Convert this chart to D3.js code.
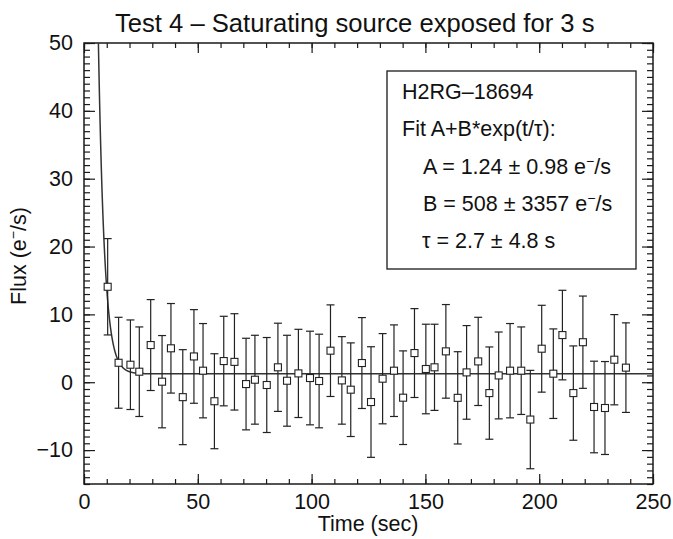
<!DOCTYPE html>
<html><head><meta charset="utf-8">
<script src="https://cdn.jsdelivr.net/npm/d3@7"></script>
<style>
body{margin:0;background:#fff;}
svg{font-family:"Liberation Sans",Arial,Helvetica,sans-serif;}
</style></head>
<body><svg id="c" width="673" height="539"></svg>
<script>
// ---- data ----
const times = [10.4,15.2,20.4,24.3,29.3,34.3,38.2,43.4,48.3,52.3,57.3,61.4,66.1,71.2,75.1,80.3,85.2,89.2,94.2,99.3,103.3,108.3,113.3,117.2,122.1,126.1,131.2,136.2,140.2,145.2,150.2,154.0,159.0,164.2,168.1,173.2,178.1,182.2,187.2,192.1,196.1,201.1,206.2,210.2,215.0,219.2,224.1,228.9,233.0,238.1];
const flux = [14.07,2.87,2.58,1.55,5.48,0.08,5.0,-2.2,3.8,1.7,-2.8,3.12,3.0,-0.27,0.37,-0.41,2.2,0.22,1.3,0.62,0.18,4.65,0.27,-1.1,2.83,-2.92,0.52,1.7,-2.28,4.3,1.95,2.2,4.55,-2.3,1.45,3.07,-1.6,1.0,1.7,1.7,-5.5,4.94,1.26,6.95,-1.6,5.9,-3.65,-3.8,3.32,2.15];
const fluxErr = [7.1,6.7,6.6,6.6,6.7,6.8,6.6,7.0,6.9,6.95,7.0,6.6,7.1,6.75,6.55,7.0,6.5,6.7,6.5,6.9,6.9,6.75,6.45,6.9,6.7,8.15,6.65,6.75,6.9,6.55,6.6,6.35,6.9,6.8,6.9,6.5,6.8,6.4,6.95,6.45,7.25,6.4,6.6,6.6,6.95,6.8,6.75,6.85,6.65,6.6];
const xTicks = [0,50,100,150,200,250];
const yTicks = [-10,0,10,20,30,40,50];
const fitA = 1.24, fitB = 508, fitTau = 2.7;
const titleText = "Test 4 \u2013 Saturating source exposed for 3 s";
const legendLines = ["H2RG\u201318694","Fit A+B*exp(t/\u03c4):","A = 1.24 \u00b1 0.98 e","B = 508 \u00b1 3357 e","\u03c4 = 2.7 \u00b1 4.8 s"];

const svg = d3.select("#c");
const L=84,R=653,T=43,B=484;
const x = d3.scaleLinear([0,250],[L,R]);
const y = d3.scaleLinear([-15,50],[B,T]);
const ink = "#1a1a1a";
const FS = 21.5;

svg.append("defs").append("clipPath").attr("id","clip")
  .append("rect").attr("x",L).attr("y",T).attr("width",R-L).attr("height",B-T);

function styleAxis(g){
  g.select(".domain").remove();
  g.selectAll("line").attr("stroke",ink).attr("stroke-width",1.2);
  g.selectAll("text").attr("fill","#111").attr("font-size",FS).attr("font-family","Liberation Sans, Arial, sans-serif");
}
const xMinor = d3.range(0,251,10), yMinor = d3.range(-15,51,1);
// bottom
svg.append("g").attr("transform",`translate(0,${B})`)
  .call(d3.axisBottom(x).tickValues(xMinor).tickSize(-5).tickFormat("")).call(styleAxis);
svg.append("g").attr("transform",`translate(0,${B})`)
  .call(d3.axisBottom(x).tickValues(xTicks).tickSize(-10).tickPadding(10).tickFormat(d3.format("d"))).call(styleAxis);
// top
svg.append("g").attr("transform",`translate(0,${T})`)
  .call(d3.axisTop(x).tickValues(xMinor).tickSize(-5).tickFormat("")).call(styleAxis);
svg.append("g").attr("transform",`translate(0,${T})`)
  .call(d3.axisTop(x).tickValues(xTicks).tickSize(-10).tickFormat("")).call(styleAxis);
// left
svg.append("g").attr("transform",`translate(${L},0)`)
  .call(d3.axisLeft(y).tickValues(yMinor).tickSize(-6).tickFormat("")).call(styleAxis);
svg.append("g").attr("transform",`translate(${L},0)`)
  .call(d3.axisLeft(y).tickValues(yTicks).tickSize(-11).tickPadding(11).tickFormat(d=>d<0?"\u2212"+Math.abs(d):d)).call(styleAxis);
// right
svg.append("g").attr("transform",`translate(${R},0)`)
  .call(d3.axisRight(y).tickValues(yMinor).tickSize(-6).tickFormat("")).call(styleAxis);
svg.append("g").attr("transform",`translate(${R},0)`)
  .call(d3.axisRight(y).tickValues(yTicks).tickSize(-11).tickFormat("")).call(styleAxis);

// frame
svg.append("rect").attr("x",L).attr("y",T).attr("width",R-L).attr("height",B-T)
  .attr("fill","none").attr("stroke",ink).attr("stroke-width",1.5);

// fit curve (model with legend parameters)
const fitT = d3.range(5,250.01,0.05);
const line = d3.line().x(d=>x(d)).y(d=>y(fitA+fitB*Math.exp(-d/fitTau)));
svg.append("path").attr("clip-path","url(#clip)").datum(fitT).attr("d",line)
  .attr("fill","none").attr("stroke","#333").attr("stroke-width",1.5);

// error bars
const eb = svg.append("g").attr("stroke","#222").attr("stroke-width",1.2).attr("fill","none");
times.forEach((t,i)=>{
  const cx=x(t), y1=y(flux[i]+fluxErr[i]), y2=y(flux[i]-fluxErr[i]);
  eb.append("line").attr("x1",cx).attr("x2",cx).attr("y1",y1).attr("y2",y2);
  eb.append("line").attr("x1",cx-4).attr("x2",cx+4).attr("y1",y1).attr("y2",y1);
  eb.append("line").attr("x1",cx-4).attr("x2",cx+4).attr("y1",y2).attr("y2",y2);
});
svg.append("g").selectAll("rect").data(times).join("rect")
  .attr("x",d=>x(d)-3.5).attr("y",(d,i)=>y(flux[i])-3.5).attr("width",7).attr("height",7)
  .attr("fill","#fff").attr("stroke","#222").attr("stroke-width",1.1);

// title & axis titles
svg.append("text").attr("x",115).attr("y",31.5).attr("text-anchor","start")
  .attr("font-size",25.6).attr("fill","#111").text(titleText);
svg.append("text").attr("x",368).attr("y",531).attr("text-anchor","middle")
  .attr("font-size",FS).attr("fill","#111").text("Time (sec)");
const yl = svg.append("text").attr("transform","translate(26,256) rotate(-90)").attr("text-anchor","middle")
  .attr("font-size",FS).attr("fill","#111");
yl.append("tspan").text("Flux (e");
yl.append("tspan").attr("dy",-8).attr("font-size",14).text("\u2212");
yl.append("tspan").attr("dy",8).text("/s)");

// legend box
svg.append("rect").attr("x",387).attr("y",71).attr("width",249).attr("height",198)
  .attr("fill","#fff").attr("stroke",ink).attr("stroke-width",1.3);
const lg = svg.append("g").attr("font-size",FS).attr("fill","#111");
const lx=[402,402,423,423,422], ly=[99,136,173.5,211,248];
legendLines.forEach((s,i)=>{
  const t = lg.append("text").attr("x",lx[i]).attr("y",ly[i]);
  t.append("tspan").text(s);
  if(i===2||i===3){
    t.append("tspan").attr("dy",-8).attr("font-size",14).text("\u2212");
    t.append("tspan").attr("dy",8).text("/s");
  }
});
</script></body></html>
